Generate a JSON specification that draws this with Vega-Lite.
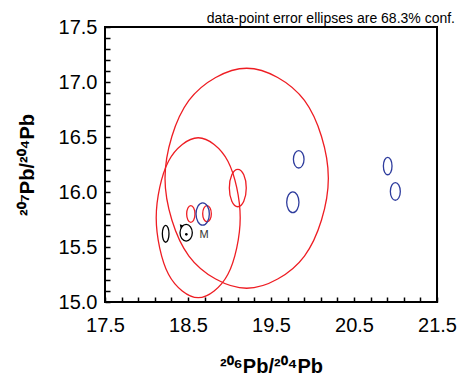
{
  "$schema": "https://vega.github.io/schema/vega-lite/v6.json",
  "width": 332,
  "height": 275,
  "autosize": {"type": "none"},
  "padding": {"left": 105, "top": 27, "right": 22, "bottom": 71},
  "background": "white",
  "title": {"text": "data-point error ellipses are 68.3% conf.", "anchor": "end", "frame": "group", "dx": 18, "dy": 15, "fontSize": 14, "fontWeight": "normal", "offset": 6, "font": "Liberation Sans", "color": "#000"},
  "config": {
    "font": "Liberation Sans",
    "view": {"stroke": "#000", "strokeWidth": 2},
    "axis": {"grid": false, "domain": false, "labelFont": "Liberation Sans", "labelFontSize": 20, "labelColor": "#000", "titleFont": "Liberation Sans", "titleFontSize": 20, "titleFontWeight": "bold", "titleColor": "#000", "labelOverlap": false, "labelFlush": false}
  },
  "datasets": {
    "ell": [
      {"id": "E1", "grp": "red", "i": 0, "x": 20.191, "y": 16.125},
      {"id": "E1", "grp": "red", "i": 1, "x": 19.903, "y": 16.832},
      {"id": "E1", "grp": "red", "i": 2, "x": 19.207, "y": 17.125},
      {"id": "E1", "grp": "red", "i": 3, "x": 18.511, "y": 16.832},
      {"id": "E1", "grp": "red", "i": 4, "x": 18.223, "y": 16.125},
      {"id": "E1", "grp": "red", "i": 5, "x": 18.511, "y": 15.418},
      {"id": "E1", "grp": "red", "i": 6, "x": 19.207, "y": 15.125},
      {"id": "E1", "grp": "red", "i": 7, "x": 19.903, "y": 15.418},
      {"id": "E2", "grp": "red", "i": 0, "x": 19.129, "y": 15.766},
      {"id": "E2", "grp": "red", "i": 1, "x": 18.981, "y": 16.280},
      {"id": "E2", "grp": "red", "i": 2, "x": 18.623, "y": 16.493},
      {"id": "E2", "grp": "red", "i": 3, "x": 18.265, "y": 16.280},
      {"id": "E2", "grp": "red", "i": 4, "x": 18.117, "y": 15.766},
      {"id": "E2", "grp": "red", "i": 5, "x": 18.265, "y": 15.252},
      {"id": "E2", "grp": "red", "i": 6, "x": 18.623, "y": 15.039},
      {"id": "E2", "grp": "red", "i": 7, "x": 18.981, "y": 15.252},
      {"id": "E3", "grp": "red", "i": 0, "x": 19.202, "y": 16.036},
      {"id": "E3", "grp": "red", "i": 1, "x": 19.172, "y": 16.156},
      {"id": "E3", "grp": "red", "i": 2, "x": 19.100, "y": 16.206},
      {"id": "E3", "grp": "red", "i": 3, "x": 19.028, "y": 16.156},
      {"id": "E3", "grp": "red", "i": 4, "x": 18.998, "y": 16.036},
      {"id": "E3", "grp": "red", "i": 5, "x": 19.028, "y": 15.916},
      {"id": "E3", "grp": "red", "i": 6, "x": 19.100, "y": 15.866},
      {"id": "E3", "grp": "red", "i": 7, "x": 19.172, "y": 15.916},
      {"id": "E4", "grp": "red", "i": 0, "x": 18.584, "y": 15.800},
      {"id": "E4", "grp": "red", "i": 1, "x": 18.569, "y": 15.854},
      {"id": "E4", "grp": "red", "i": 2, "x": 18.534, "y": 15.876},
      {"id": "E4", "grp": "red", "i": 3, "x": 18.499, "y": 15.854},
      {"id": "E4", "grp": "red", "i": 4, "x": 18.484, "y": 15.800},
      {"id": "E4", "grp": "red", "i": 5, "x": 18.499, "y": 15.746},
      {"id": "E4", "grp": "red", "i": 6, "x": 18.534, "y": 15.724},
      {"id": "E4", "grp": "red", "i": 7, "x": 18.569, "y": 15.746},
      {"id": "E5", "grp": "red", "i": 0, "x": 18.781, "y": 15.803},
      {"id": "E5", "grp": "red", "i": 1, "x": 18.766, "y": 15.855},
      {"id": "E5", "grp": "red", "i": 2, "x": 18.729, "y": 15.876},
      {"id": "E5", "grp": "red", "i": 3, "x": 18.692, "y": 15.855},
      {"id": "E5", "grp": "red", "i": 4, "x": 18.677, "y": 15.803},
      {"id": "E5", "grp": "red", "i": 5, "x": 18.692, "y": 15.751},
      {"id": "E5", "grp": "red", "i": 6, "x": 18.729, "y": 15.730},
      {"id": "E5", "grp": "red", "i": 7, "x": 18.766, "y": 15.751},
      {"id": "E6", "grp": "blue", "i": 0, "x": 18.757, "y": 15.800},
      {"id": "E6", "grp": "blue", "i": 1, "x": 18.734, "y": 15.872},
      {"id": "E6", "grp": "blue", "i": 2, "x": 18.677, "y": 15.902},
      {"id": "E6", "grp": "blue", "i": 3, "x": 18.620, "y": 15.872},
      {"id": "E6", "grp": "blue", "i": 4, "x": 18.597, "y": 15.800},
      {"id": "E6", "grp": "blue", "i": 5, "x": 18.620, "y": 15.728},
      {"id": "E6", "grp": "blue", "i": 6, "x": 18.677, "y": 15.698},
      {"id": "E6", "grp": "blue", "i": 7, "x": 18.734, "y": 15.728},
      {"id": "E7", "grp": "black", "i": 0, "x": 18.271, "y": 15.620},
      {"id": "E7", "grp": "black", "i": 1, "x": 18.259, "y": 15.674},
      {"id": "E7", "grp": "black", "i": 2, "x": 18.231, "y": 15.697},
      {"id": "E7", "grp": "black", "i": 3, "x": 18.203, "y": 15.674},
      {"id": "E7", "grp": "black", "i": 4, "x": 18.191, "y": 15.620},
      {"id": "E7", "grp": "black", "i": 5, "x": 18.203, "y": 15.566},
      {"id": "E7", "grp": "black", "i": 6, "x": 18.231, "y": 15.543},
      {"id": "E7", "grp": "black", "i": 7, "x": 18.259, "y": 15.566},
      {"id": "E8", "grp": "black", "i": 0, "x": 18.552, "y": 15.630},
      {"id": "E8", "grp": "black", "i": 1, "x": 18.530, "y": 15.684},
      {"id": "E8", "grp": "black", "i": 2, "x": 18.478, "y": 15.706},
      {"id": "E8", "grp": "black", "i": 3, "x": 18.426, "y": 15.684},
      {"id": "E8", "grp": "black", "i": 4, "x": 18.404, "y": 15.630},
      {"id": "E8", "grp": "black", "i": 5, "x": 18.426, "y": 15.576},
      {"id": "E8", "grp": "black", "i": 6, "x": 18.478, "y": 15.554},
      {"id": "E8", "grp": "black", "i": 7, "x": 18.530, "y": 15.576},
      {"id": "E9", "grp": "blue", "i": 0, "x": 19.898, "y": 16.297},
      {"id": "E9", "grp": "blue", "i": 1, "x": 19.879, "y": 16.353},
      {"id": "E9", "grp": "blue", "i": 2, "x": 19.834, "y": 16.376},
      {"id": "E9", "grp": "blue", "i": 3, "x": 19.789, "y": 16.353},
      {"id": "E9", "grp": "blue", "i": 4, "x": 19.770, "y": 16.297},
      {"id": "E9", "grp": "blue", "i": 5, "x": 19.789, "y": 16.241},
      {"id": "E9", "grp": "blue", "i": 6, "x": 19.834, "y": 16.218},
      {"id": "E9", "grp": "blue", "i": 7, "x": 19.879, "y": 16.241},
      {"id": "E10", "grp": "blue", "i": 0, "x": 19.837, "y": 15.907},
      {"id": "E10", "grp": "blue", "i": 1, "x": 19.815, "y": 15.974},
      {"id": "E10", "grp": "blue", "i": 2, "x": 19.763, "y": 16.002},
      {"id": "E10", "grp": "blue", "i": 3, "x": 19.711, "y": 15.974},
      {"id": "E10", "grp": "blue", "i": 4, "x": 19.689, "y": 15.907},
      {"id": "E10", "grp": "blue", "i": 5, "x": 19.711, "y": 15.840},
      {"id": "E10", "grp": "blue", "i": 6, "x": 19.763, "y": 15.812},
      {"id": "E10", "grp": "blue", "i": 7, "x": 19.815, "y": 15.840},
      {"id": "E11", "grp": "blue", "i": 0, "x": 20.958, "y": 16.236},
      {"id": "E11", "grp": "blue", "i": 1, "x": 20.943, "y": 16.292},
      {"id": "E11", "grp": "blue", "i": 2, "x": 20.906, "y": 16.315},
      {"id": "E11", "grp": "blue", "i": 3, "x": 20.869, "y": 16.292},
      {"id": "E11", "grp": "blue", "i": 4, "x": 20.854, "y": 16.236},
      {"id": "E11", "grp": "blue", "i": 5, "x": 20.869, "y": 16.180},
      {"id": "E11", "grp": "blue", "i": 6, "x": 20.906, "y": 16.157},
      {"id": "E11", "grp": "blue", "i": 7, "x": 20.943, "y": 16.180},
      {"id": "E12", "grp": "blue", "i": 0, "x": 21.058, "y": 16.005},
      {"id": "E12", "grp": "blue", "i": 1, "x": 21.040, "y": 16.062},
      {"id": "E12", "grp": "blue", "i": 2, "x": 20.998, "y": 16.085},
      {"id": "E12", "grp": "blue", "i": 3, "x": 20.956, "y": 16.062},
      {"id": "E12", "grp": "blue", "i": 4, "x": 20.938, "y": 16.005},
      {"id": "E12", "grp": "blue", "i": 5, "x": 20.956, "y": 15.948},
      {"id": "E12", "grp": "blue", "i": 6, "x": 20.998, "y": 15.925},
      {"id": "E12", "grp": "blue", "i": 7, "x": 21.040, "y": 15.948}
    ],
    "dot": [{"x": 18.480, "y": 15.615}],
    "arrow": [{"x": 18.418, "y": 15.692}],
    "lbl": [{"x": 18.693, "y": 15.609, "t": "M"}]
  },
  "encoding": {
    "x": {
      "field": "x", "type": "quantitative",
      "scale": {"domain": [17.5, 21.5], "nice": false, "zero": false},
      "axis": {
        "title": "²⁰⁶Pb/²⁰⁴Pb",
        "ticks": true, "tickColor": "#000000", "tickWidth": 1.5, "tickSize": 5, "offset": -5, "zindex": 2,
        "values": [17.5, 17.7, 17.9, 18.1, 18.3, 18.5, 18.7, 18.9, 19.1, 19.3, 19.5, 19.7, 19.9, 20.1, 20.3, 20.5, 20.7, 20.9, 21.1, 21.3, 21.5],
        "labelExpr": "abs(datum.value - floor(datum.value) - 0.5) < 0.01 ? format(datum.value, '.1f') : ''",
        "labelPadding": 13,
        "titlePadding": 21
      }
    },
    "y": {
      "field": "y", "type": "quantitative",
      "scale": {"domain": [15.0, 17.5], "nice": false, "zero": false},
      "axis": {
        "title": "²⁰⁷Pb/²⁰⁴Pb",
        "ticks": true, "tickColor": "#000000", "tickWidth": 1.5, "tickSize": 5, "offset": -5, "zindex": 2,
        "values": [15.0, 15.1, 15.2, 15.3, 15.4, 15.5, 15.6, 15.7, 15.8, 15.9, 16.0, 16.1, 16.2, 16.3, 16.4, 16.5, 16.6, 16.7, 16.8, 16.9, 17.0, 17.1, 17.2, 17.3, 17.4, 17.5],
        "labelExpr": "abs(datum.value * 2 - round(datum.value * 2)) < 0.01 ? format(datum.value, '.1f') : ''",
        "labelPadding": 8,
        "titlePadding": 21
      }
    }
  },
  "layer": [
    {
      "data": {"name": "ell"},
      "mark": {"type": "line", "interpolate": "cardinal-closed", "strokeWidth": 1.3},
      "encoding": {
        "order": {"field": "i", "type": "quantitative"},
        "detail": {"field": "id", "type": "nominal"},
        "color": {"field": "grp", "type": "nominal", "scale": {"domain": ["red", "blue", "black"], "range": ["#ee1d23", "#2e3c9d", "#000000"]}, "legend": null}
      }
    },
    {
      "data": {"name": "dot"},
      "mark": {"type": "circle", "size": 7, "color": "#000", "opacity": 1}
    },
    {
      "data": {"name": "arrow"},
      "mark": {"type": "point", "shape": "triangle", "size": 14, "filled": true, "color": "#000", "opacity": 1, "angle": -40}
    },
    {
      "data": {"name": "lbl"},
      "mark": {"type": "text", "fontSize": 11, "color": "#333", "align": "center", "baseline": "middle", "font": "Liberation Sans"},
      "encoding": {"text": {"field": "t"}}
    }
  ]
}
